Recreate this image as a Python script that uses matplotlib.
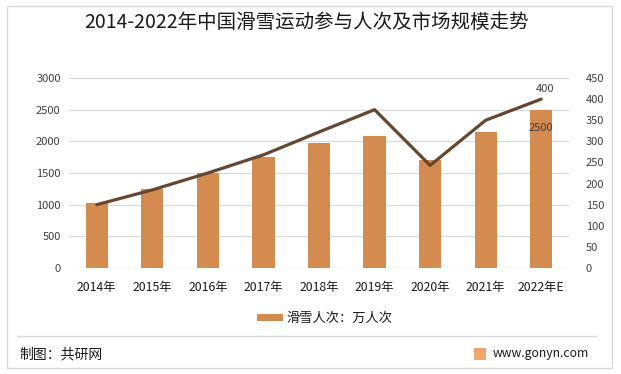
import numpy as np
import matplotlib
matplotlib.use("Agg")
import matplotlib.pyplot as plt
from matplotlib.patches import Rectangle
from matplotlib.lines import Line2D

plt.rcParams['font.family'] = ['Noto Sans CJK SC', 'DejaVu Sans']

years = ["2014年", "2015年", "2016年", "2017年", "2018年", "2019年", "2020年", "2021年", "2022年E"]
ski_visits = [1030, 1250, 1500, 1750, 1970, 2080, 1710, 2140, 2500]   # 万人次
market_size = [150, 185, 225, 268, 322, 375, 243, 350, 400]            # 亿元

bar_color = "#D38B4F"
line_color = "#654630"
grid_color = "#D9D9D9"
text_color = "#404040"

fig = plt.figure(figsize=(6.21, 3.74), dpi=100)

# outer frame
fig.patches.append(Rectangle((7/621, 1-368/374), 605/621, 362/374, transform=fig.transFigure,
                             fill=False, edgecolor="#D9D9D9", linewidth=1))
# footer separator
fig.lines.append(Line2D([17/621, 596/621], [1-336/374, 1-336/374], transform=fig.transFigure,
                        color="#D9D9D9", linewidth=1))

ax = fig.add_axes([69/621, 1-268/374, 500/621, 190/374])
x = np.arange(len(years))
ax.bar(x, ski_visits, width=0.4, color=bar_color, zorder=2, label="滑雪人次：万人次")
ax.set_ylim(0, 3000)
ax.set_yticks(np.arange(0, 3001, 500))
ax.set_xlim(-0.5, len(years) - 0.5)
ax.set_xticks(x)
ax.set_xticklabels(years)
ax.grid(axis="y", color=grid_color, linewidth=0.9, zorder=0)
ax.set_axisbelow(True)
for s in ax.spines.values():
    s.set_visible(False)
ax.tick_params(axis="y", length=0, labelsize=8, colors=text_color, pad=6)
ax.tick_params(axis="x", length=0, labelsize=8.8, colors="#1a1a1a", pad=9)

ax2 = ax.twinx()
ax2.plot(x, market_size, color=line_color, linewidth=2.3, zorder=3, solid_capstyle="round")
ax2.set_ylim(0, 450)
ax2.set_yticks(np.arange(0, 451, 50))
for s in ax2.spines.values():
    s.set_visible(False)
ax2.tick_params(length=0, labelsize=8, colors=text_color, pad=12)

# data labels for last point
ax2.annotate(str(market_size[-1]), (x[-1], market_size[-1]), xytext=(3, 4), textcoords="offset points",
             ha="center", va="bottom", fontsize=8, color=text_color)
ax.annotate(str(ski_visits[-1]), (x[-1], ski_visits[-1]), xytext=(0, -13), textcoords="offset points",
            ha="center", va="center", fontsize=8, color=text_color)

fig.text(307/621, 1-22/374, "2014-2022年中国滑雪运动参与人次及市场规模走势", ha="center", va="center",
         fontsize=14, color="#1a1a1a")

# legend
fig.patches.append(Rectangle((257/621, 1-321/374), 26/621, 7/374, transform=fig.transFigure,
                             facecolor=bar_color, edgecolor="none"))
fig.text(286/621, 1-318/374, "滑雪人次：万人次", ha="left", va="center", fontsize=9.5, color="#1a1a1a")

# footer
fig.text(19/621, 1-354/374, "制图：共研网", ha="left", va="center", fontsize=10, color="#1a1a1a")
fig.patches.append(Rectangle((474/621, 1-360/374), 12/621, 12/374, transform=fig.transFigure,
                             facecolor="#F3A36C", edgecolor="none"))
fig.text(493/621, 1-354/374, "www.gonyn.com", ha="left", va="center", fontsize=8.8, color="#1a1a1a")

fig.savefig("out.png", dpi=100)
